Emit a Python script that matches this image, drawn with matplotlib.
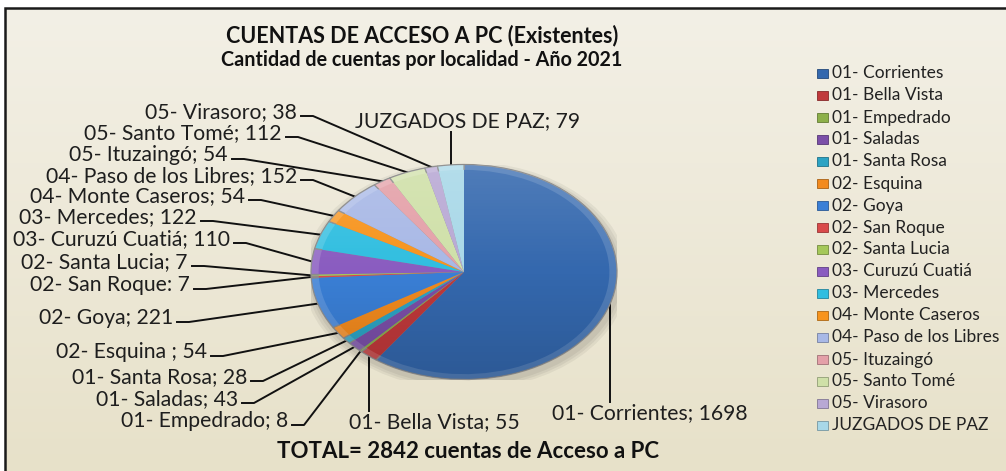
import numpy as np
import matplotlib
matplotlib.use("Agg")
import matplotlib.pyplot as plt
from matplotlib.patches import Rectangle, Circle
from matplotlib.lines import Line2D

plt.rcParams['font.family'] = ['Lato', 'DejaVu Sans']

# ---- data -------------------------------------------------------------
localidades = [
    "01- Corrientes", "01- Bella Vista", "01- Empedrado", "01- Saladas",
    "01- Santa Rosa", "02- Esquina", "02- Goya", "02- San Roque",
    "02- Santa Lucia", "03- Curuzú Cuatiá", "03- Mercedes",
    "04- Monte Caseros", "04- Paso de los Libres", "05- Ituzaingó",
    "05- Santo Tomé", "05- Virasoro", "JUZGADOS DE PAZ",
]
cuentas = [1698, 55, 8, 43, 28, 54, 221, 7, 7, 110, 122, 54, 152, 54, 112, 38, 79]
separadores = ["; ", "; ", "; ", "; ", "; ", " ; ", "; ", ": ", "; ", "; ",
               "; ", "; ", "; ", "; ", "; ", "; ", "; "]
titulo = "CUENTAS DE ACCESO A PC (Existentes)"
subtitulo = "Cantidad de cuentas por localidad - Año 2021"

colores = ["#3468AE", "#C0393B", "#8DB04A", "#7B4FA8", "#2CA3C4", "#F28A1E",
           "#3A7FD6", "#D94A4A", "#A5C85A", "#8A5CC0", "#30BEE0", "#F7941D",
           "#A8B8E6", "#E4A0A8", "#CFE0A8", "#B8A8D4", "#A8D8E8"]

# ---- layout (pixels) ---------------------------------------------------
W, H = 1006, 471
# label placement: ('left', text right x, text y) / ('below'|'above', text centre x, text y)
posiciones = [
    ("below", 650, 413), ("below", 434, 422), ("left", 288, 421),
    ("left", 238, 399), ("left", 247, 377), ("left", 207, 352),
    ("left", 173, 318), ("left", 190, 285), ("left", 188, 262),
    ("left", 230, 239), ("left", 197, 217), ("left", 245, 196),
    ("left", 297, 176), ("left", 228, 155), ("left", 282, 133),
    ("left", 297, 112), ("above", 468, 121),
]

fig = plt.figure(figsize=(W / 100, H / 100), dpi=100)
fig.patch.set_facecolor("white")

# chart area background with vertical gradient
bg = fig.add_axes([5 / W, 0, 1 - 5 / W, 1 - 8 / H])
grad = np.linspace(0, 1, 256).reshape(-1, 1)
top = np.array([243, 240, 230]) / 255
bot = np.array([231, 225, 201]) / 255
img = top + (bot - top) * grad[..., None]
bg.imshow(img, aspect="auto", extent=[0, 1, 0, 1], origin="upper")
bg.set_axis_off()
fig.add_artist(Rectangle((5 / W, -0.01), 1.0, 1 - 8 / H + 0.01,
                         transform=fig.transFigure, fill=False,
                         edgecolor="#1a1a1a", linewidth=1.8))

# overlay in pixel coordinates for text and leader lines
ov = fig.add_axes([0, 0, 1, 1])
ov.set_xlim(0, W)
ov.set_ylim(H, 0)
ov.set_axis_off()
ov.patch.set_alpha(0)

# pie (stretched to an ellipse)
cx, cy, rx, ry = 464, 272, 153, 107.5
pax = fig.add_axes([(cx - rx) / W, (H - cy - ry) / H, 2 * rx / W, 2 * ry / H])


def tint(c, f):
    rgb = np.array(matplotlib.colors.to_rgb(c))
    return tuple(rgb + (1 - rgb) * f) if f > 0 else tuple(rgb * (1 + f))


# soft drop shadow
for k, a in enumerate([0.05, 0.05, 0.05]):
    pax.add_patch(Circle((0.01, -0.035), 1.0 + 0.02 * (k + 1), facecolor="black",
                         alpha=a, edgecolor="none", zorder=0))

rim = [tint(c, 0.14) for c in colores]
pax.pie(cuentas, colors=rim, startangle=90, counterclock=False, radius=1.0,
        wedgeprops=dict(edgecolor="#8c8c8c", linewidth=0.9, zorder=1))
pax.pie(cuentas, colors=colores, startangle=90, counterclock=False, radius=0.95,
        wedgeprops=dict(edgecolor="none", zorder=1))

# light-to-dark shading over the pie surface
yy = np.linspace(1, -1, 200).reshape(-1, 1)
shade = np.zeros((200, 1, 4))
shade[..., :3] = np.where(yy[..., None] > 0, 1.0, 0.0)
shade[..., 3] = np.clip(np.abs(yy) * 0.14, 0, 0.14)
sh = pax.imshow(shade, extent=[-1, 1, -1, 1], aspect="auto", zorder=2,
                interpolation="bilinear")
sh.set_clip_path(Circle((0, 0), 1.0, transform=pax.transData))

pax.set_aspect("auto")
pax.set_xlim(-1, 1)
pax.set_ylim(-1, 1)
pax.set_axis_off()

# leader lines and labels
total = sum(cuentas)
acum = np.cumsum([0] + cuentas[:-1])
inv = ov.transData.inverted()
fs_lab = 15.2
for nombre, v, sep, a, (modo, lx, ly) in zip(localidades, cuentas, separadores, acum, posiciones):
    ang = np.deg2rad(90 - 360 * (a + v / 2) / total)
    ax_, ay_ = inv.transform(pax.transData.transform((np.cos(ang), np.sin(ang))))
    texto = f"{nombre}{sep}{v}"
    if modo == "left":
        x0 = lx + 4
        yl = ly + 4
        ov.add_line(Line2D([x0, x0 + 12, ax_], [yl, yl, ay_], color="#111111", lw=1.4))
        ov.text(lx, ly, texto, ha="right", va="center", fontsize=fs_lab, color="#1e1e1e")
    elif modo == "below":
        ov.add_line(Line2D([ax_, ax_], [ay_, ly - 11], color="#111111", lw=1.4))
        ov.text(lx, ly, texto, ha="center", va="center", fontsize=fs_lab, color="#1e1e1e")
    else:
        ov.add_line(Line2D([ax_, ax_], [ay_, ly + 11], color="#111111", lw=1.4))
        ov.text(lx, ly, texto, ha="center", va="center", fontsize=fs_lab, color="#1e1e1e")

# titles
ov.text(422, 36, titulo, ha="center", va="center", fontsize=15.5, fontweight="bold", color="#111111")
ov.text(422, 60, subtitulo, ha="center", va="center", fontsize=14.2, fontweight="bold", color="#111111")
ov.text(468, 452, f"TOTAL= {total} cuentas de Acceso a PC", ha="center", va="center",
        fontsize=16, fontweight="bold", color="#111111")

# legend
ly0, dy = 73.5, 22.0
for i, (nombre, c) in enumerate(zip(localidades, colores)):
    y = ly0 + i * dy
    ov.add_patch(Rectangle((817, y - 4.5), 11, 9, facecolor=c, edgecolor=tint(c, -0.3), lw=0.6))
    ov.text(832, y, nombre, ha="left", va="center", fontsize=12.5, color="#222222")

fig.savefig("out.png", dpi=100, facecolor=fig.get_facecolor())
